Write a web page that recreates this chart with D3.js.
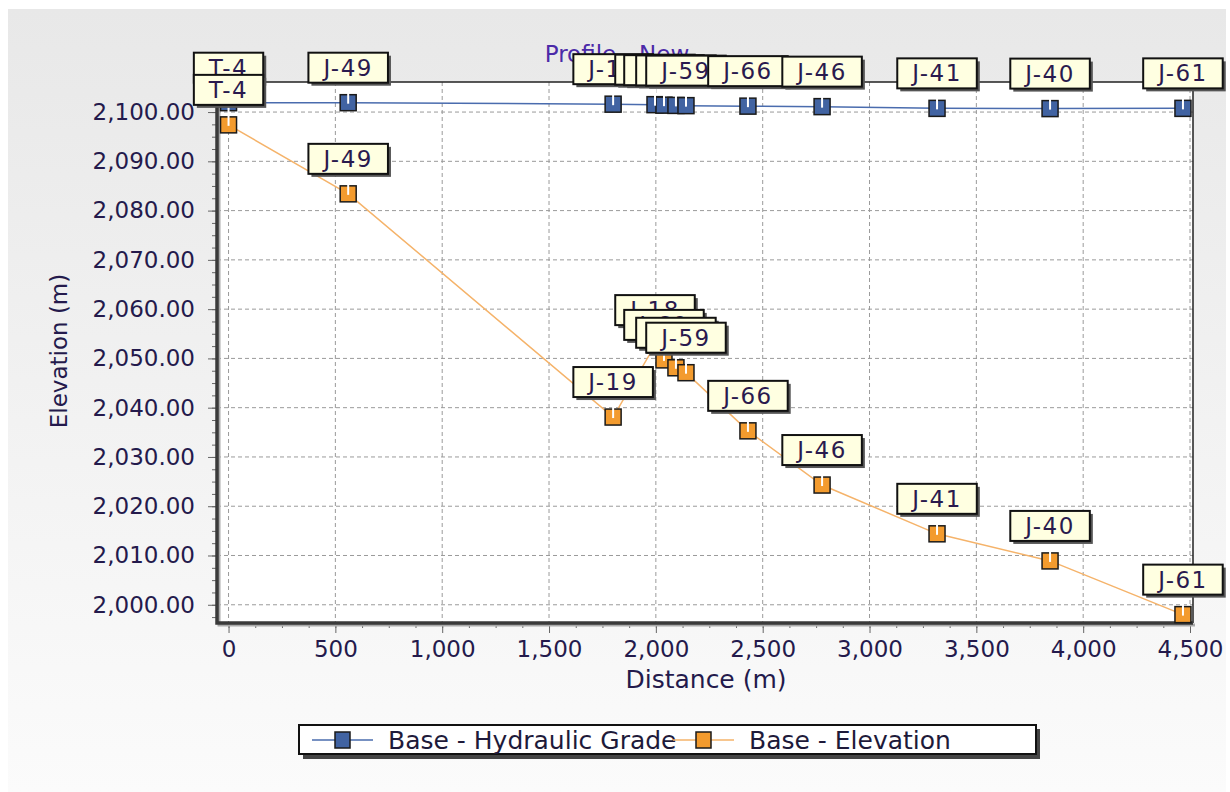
<!DOCTYPE html>
<html>
<head>
<meta charset="utf-8">
<title>Profile - New</title>
<script src="https://cdn.jsdelivr.net/npm/d3@7"></script>
<style>
  body { margin: 0; background: #fff; }
  text { font-family: "DejaVu Sans", Verdana, sans-serif; }
</style>
</head>
<body>
<svg id="chart"></svg>
<script>
// node labels, in profile order
var nodes = ["T-4", "J-49", "J-19", "J-18", "J-60", "J-58", "J-59", "J-66", "J-46", "J-41", "J-40", "J-61"];
// distance along profile (m)
var distance = [0, 560, 1800, 1996, 2038, 2094, 2141, 2431, 2778, 3316, 3845, 4467];
// Base - Hydraulic Grade (m)
var hydraulicGrade = [2101.9, 2101.9, 2101.6, 2101.5, 2101.4, 2101.35, 2101.3, 2101.2, 2101.1, 2100.75, 2100.7, 2100.75];
// Base - Elevation (m)
var elevation = [2097.4, 2083.4, 2038.1, 2052.7, 2049.7, 2048.1, 2047.1, 2035.3, 2024.3, 2014.4, 2008.9, 1998.0];

var xTicks = [0, 500, 1000, 1500, 2000, 2500, 3000, 3500, 4000, 4500];
var yTicks = [2000, 2010, 2020, 2030, 2040, 2050, 2060, 2070, 2080, 2090, 2100];

var W = 1230, H = 792;
var plot = {left: 217, right: 1193, top: 82, bottom: 623};

var svg = d3.select("#chart").attr("width", W).attr("height", H);

var defs = svg.append("defs");
var grad = defs.append("linearGradient").attr("id", "bg").attr("x1", 0).attr("y1", 0).attr("x2", 0).attr("y2", 1);
grad.append("stop").attr("offset", "0%").attr("stop-color", "#e8e8e8");
grad.append("stop").attr("offset", "100%").attr("stop-color", "#fbfbfb");

svg.append("rect").attr("x", 8).attr("y", 9).attr("width", 1218).attr("height", H - 9).attr("fill", "url(#bg)");

var x = d3.scaleLinear().domain([-54, 4514]).range([plot.left, plot.right]);
var y = d3.scaleLinear().domain([1996.3, 2106.1]).range([plot.bottom, plot.top]);

// plot area
svg.append("rect")
   .attr("x", plot.left).attr("y", plot.top)
   .attr("width", plot.right - plot.left).attr("height", plot.bottom - plot.top)
   .attr("fill", "#fff");

// grid
svg.append("g").selectAll("line").data(xTicks).enter().append("line")
   .attr("x1", function(d){ return x(d); }).attr("x2", function(d){ return x(d); })
   .attr("y1", plot.top).attr("y2", plot.bottom)
   .attr("stroke", "#9a9a9a").attr("stroke-dasharray", "4,3");
svg.append("g").selectAll("line").data(yTicks).enter().append("line")
   .attr("y1", function(d){ return y(d); }).attr("y2", function(d){ return y(d); })
   .attr("x1", plot.left).attr("x2", plot.right)
   .attr("stroke", "#9a9a9a").attr("stroke-dasharray", "4,3");

// minor ticks
var xMinor = d3.range(0, 4501, 125);
var yMinor = d3.range(1997.5, 2106, 2.5);
svg.append("g").attr("transform", "translate(0," + plot.bottom + ")")
   .call(d3.axisBottom(x).tickValues(xMinor).tickSize(5).tickFormat(""))
   .call(function(g){ g.select(".domain").remove(); g.selectAll("line").attr("stroke", "#666"); });
svg.append("g").attr("transform", "translate(" + plot.left + ",0)")
   .call(d3.axisLeft(y).tickValues(yMinor).tickSize(5).tickFormat(""))
   .call(function(g){ g.select(".domain").remove(); g.selectAll("line").attr("stroke", "#666"); });

// major ticks + labels
var tickColor = "#241a4c";
svg.append("g").attr("transform", "translate(0," + plot.bottom + ")")
   .call(d3.axisBottom(x).tickValues(xTicks).tickSize(10).tickPadding(8).tickFormat(d3.format(",")))
   .call(function(g){
       g.select(".domain").remove();
       g.selectAll("line").attr("stroke", "#666");
       g.selectAll("text").attr("fill", tickColor).attr("font-size", "23px")
        .attr("font-family", "DejaVu Sans, Verdana, sans-serif");
   });
svg.append("g").attr("transform", "translate(" + plot.left + ",0)")
   .call(d3.axisLeft(y).tickValues(yTicks).tickSize(9).tickPadding(13).tickFormat(d3.format(",.2f")))
   .call(function(g){
       g.select(".domain").remove();
       g.selectAll("line").attr("stroke", "#666");
       g.selectAll("text").attr("fill", tickColor).attr("font-size", "23px")
        .attr("font-family", "DejaVu Sans, Verdana, sans-serif");
   });

// frame
svg.append("path")
   .attr("d", "M" + plot.left + "," + plot.top + "H" + plot.right + "V" + plot.bottom)
   .attr("fill", "none").attr("stroke", "#222").attr("stroke-width", 1.5);
svg.append("path")
   .attr("d", "M" + (plot.left + 2) + "," + plot.top + "V" + (plot.bottom + 2) + "H" + (plot.right + 2))
   .attr("fill", "none").attr("stroke", "#aaa").attr("stroke-width", 3);
svg.append("path")
   .attr("d", "M" + plot.left + "," + plot.top + "V" + plot.bottom + "H" + plot.right)
   .attr("fill", "none").attr("stroke", "#3a3a3a").attr("stroke-width", 3.5);

// axis titles
svg.append("text").attr("x", 706).attr("y", 688).attr("text-anchor", "middle")
   .attr("font-size", "25px").attr("fill", tickColor).text("Distance (m)");
svg.append("text").attr("transform", "translate(67,351) rotate(-90)").attr("text-anchor", "middle")
   .attr("font-size", "23px").attr("fill", tickColor).text("Elevation (m)");

// chart title (mostly hidden behind labels)
svg.append("text").attr("x", 617).attr("y", 62).attr("text-anchor", "middle")
   .attr("font-size", "23px").attr("fill", "#4b2aa8").text("Profile - New");

var series = [
    {name: "Base - Hydraulic Grade", values: hydraulicGrade, line: "#4a6cae", fill: "#4163a2"},
    {name: "Base - Elevation", values: elevation, line: "#f5b36a", fill: "#f39b2e"}
];

var M = 16;
series.forEach(function(s){
    var pts = nodes.map(function(n, i){ return {name: n, d: distance[i], v: s.values[i]}; });
    var g = svg.append("g");
    g.append("path").datum(pts)
     .attr("d", d3.line().x(function(p){ return x(p.d); }).y(function(p){ return y(p.v); }))
     .attr("fill", "none").attr("stroke", s.line).attr("stroke-width", 1.5);
    g.selectAll("rect.mk").data(pts).enter().append("rect").attr("class", "mk")
     .attr("x", function(p){ return x(p.d) - M / 2; }).attr("y", function(p){ return y(p.v) - M / 2; })
     .attr("width", M).attr("height", M)
     .attr("fill", s.fill).attr("stroke", "#1a1a1a").attr("stroke-width", 1.5);
    g.selectAll("line.lead").data(pts).enter().append("line").attr("class", "lead")
     .attr("x1", function(p){ return x(p.d); }).attr("x2", function(p){ return x(p.d); })
     .attr("y1", function(p){ return y(p.v) - 21; }).attr("y2", function(p){ return y(p.v) + 1; })
     .attr("stroke", "#fff").attr("stroke-width", 2);
    pts.forEach(function(p){
        var lg = g.append("g");
        var t = lg.append("text").attr("font-size", "23px").attr("letter-spacing", "1.5px")
                  .attr("fill", "#2a1a4e").attr("text-anchor", "middle").text(p.name);
        var tw = t.node().getComputedTextLength();
        var bw = tw + 30, bh = 30;
        var cx = x(p.d), by = y(p.v) - 20 - bh;
        lg.insert("rect", "text").attr("x", cx - bw / 2 + 3).attr("y", by + 3)
          .attr("width", bw).attr("height", bh).attr("fill", "#555");
        lg.insert("rect", "text").attr("x", cx - bw / 2).attr("y", by)
          .attr("width", bw).attr("height", bh).attr("fill", "#ffffe1")
          .attr("stroke", "#111").attr("stroke-width", 2);
        t.attr("x", cx).attr("y", by + 23);
    });
});

// legend
var lg = svg.append("g");
lg.append("rect").attr("x", 303).attr("y", 729).attr("width", 737).attr("height", 30).attr("fill", "#444");
lg.append("rect").attr("x", 299).attr("y", 725).attr("width", 737).attr("height", 29)
  .attr("fill", "#fff").attr("stroke", "#111").attr("stroke-width", 2);
var legendItems = [
    {s: series[0], x0: 312},
    {s: series[1], x0: 673}
];
legendItems.forEach(function(it){
    var cy = 740;
    lg.append("line").attr("x1", it.x0).attr("x2", it.x0 + 61).attr("y1", cy).attr("y2", cy)
      .attr("stroke", it.s.line).attr("stroke-width", 1.5);
    lg.append("rect").attr("x", it.x0 + 23).attr("y", cy - 8).attr("width", 15).attr("height", 16)
      .attr("fill", it.s.fill).attr("stroke", "#1a1a1a").attr("stroke-width", 1.5);
    lg.append("text").attr("x", it.x0 + 76).attr("y", cy + 9).attr("font-size", "25px")
      .attr("fill", "#1e1a3a").text(it.s.name);
});
</script>
</body>
</html>
